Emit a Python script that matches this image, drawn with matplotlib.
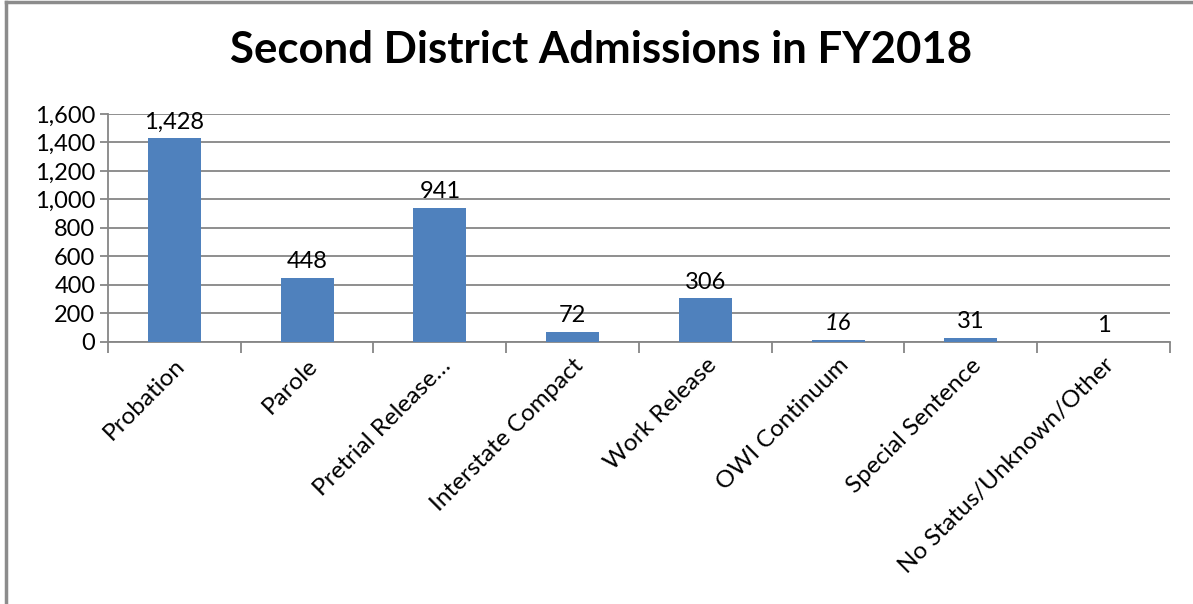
import matplotlib.pyplot as plt
from matplotlib.lines import Line2D
import numpy as np

categories = ['Probation', 'Parole', 'Pretrial Release…', 'Interstate Compact',
              'Work Release', 'OWI Continuum', 'Special Sentence', 'No Status/Unknown/Other']
admissions = [1428, 448, 941, 72, 306, 16, 31, 1]
y_ticks = [0, 200, 400, 600, 800, 1000, 1200, 1400, 1600]

plt.rcParams['font.family'] = ['Lato', 'DejaVu Sans']

fig = plt.figure(figsize=(11.93, 6.04), dpi=100)
ax = fig.add_axes([0.0905, 0.4338, 0.8902, 0.3775])

grid_c = '#868686'
x = np.arange(len(categories))
ax.bar(x, admissions, width=0.4, color='#4F81BD', zorder=3)

for xi, v in zip(x, admissions):
    style = 'italic' if v == 16 else 'normal'
    ax.text(xi, v + 40, f'{v:,}', ha='center', va='bottom', fontsize=17, style=style, zorder=4)

ax.set_xlim(-0.5, len(categories) - 0.5)
ax.set_ylim(0, 1600)
ax.set_yticks(y_ticks)
ax.set_yticklabels([f'{t:,}' for t in y_ticks], fontsize=17)
ax.yaxis.grid(True, color=grid_c, linewidth=1.3, zorder=0)

ax.set_xticks(x)
ax.set_xticklabels(categories, rotation=45, ha='right', rotation_mode='anchor', fontsize=17.5)
ax.tick_params(axis='x', length=0, pad=9)
ax.set_xticks(np.arange(-0.5, len(categories)), minor=True)
ax.tick_params(axis='x', which='minor', length=8, color=grid_c, width=1.3)
ax.tick_params(axis='y', length=6, color=grid_c, width=1.3, pad=3)

for s in ['top', 'right']:
    ax.spines[s].set_visible(False)
for s in ['left', 'bottom']:
    ax.spines[s].set_color(grid_c)
    ax.spines[s].set_linewidth(1.3)

fig.text(0.504, 0.917, 'Second District Admissions in FY2018', ha='center', va='center',
         fontsize=31.5, fontweight='bold')

# chart frame (top and left edges visible)
fig.add_artist(Line2D([0.005, 0.005], [0, 0.996], color='#8c8c8c', linewidth=2.5))
fig.add_artist(Line2D([0.005, 1], [0.996, 0.996], color='#8c8c8c', linewidth=2.5))

fig.savefig('out.png', dpi=100)
